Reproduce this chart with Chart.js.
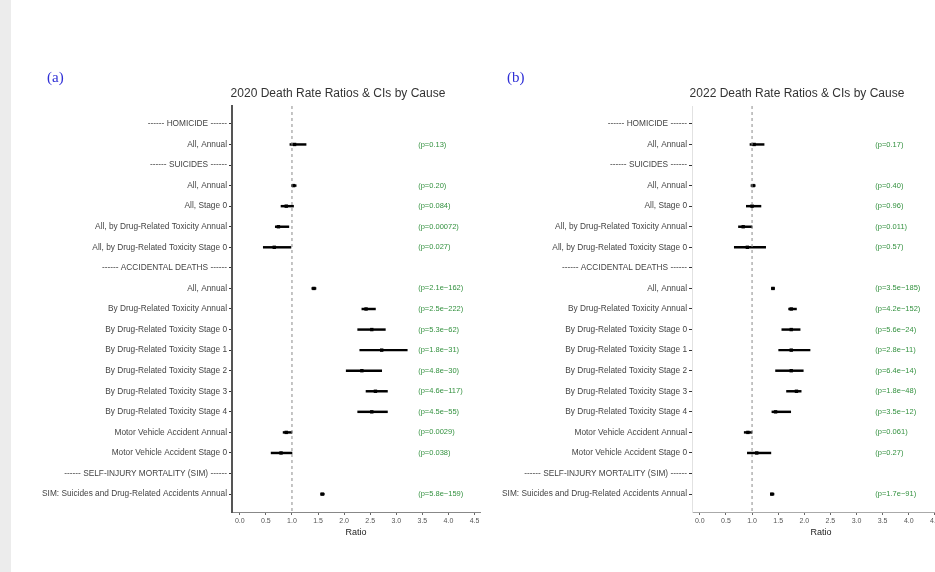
<!DOCTYPE html>
<html>
<head>
<meta charset="utf-8">
<script src="https://cdn.jsdelivr.net/npm/chart.js@4.4.1/dist/chart.umd.min.js"></script>
<style>
  body { margin: 0; background: #fff; }
  #page { position: relative; width: 935px; height: 572px; overflow: hidden; background: #fff; font-family: "Liberation Sans", Arial, sans-serif; }
  #strip { position: absolute; left: 0; top: 0; width: 11px; height: 572px; background: #ececec; }
  .panel { position: absolute; top: 0; height: 572px; overflow: hidden; }
  .letter { position: absolute; font-family: "Liberation Serif", serif; font-size: 15px; color: #2f2fd6; }
  .title { position: absolute; font-size: 12px; color: #333; text-align: center; white-space: nowrap; }
</style>
</head>
<body>
<div id="page">
  <div id="strip"></div>
  <div class="panel" style="left:12px;width:472px"><canvas id="c2020" width="472" height="572"></canvas></div>
  <div class="panel" style="left:484px;width:451px"><canvas id="c2022" width="470" height="572"></canvas></div>
  <div class="letter" style="left:47px;top:69px">(a)</div>
  <div class="letter" style="left:507px;top:69px">(b)</div>
  <div class="title" style="left:200px;width:276px;top:86px">2020 Death Rate Ratios &amp; CIs by Cause</div>
  <div class="title" style="left:659px;width:276px;top:86px">2022 Death Rate Ratios &amp; CIs by Cause</div>
</div>
<script>
// rows, top to bottom
const rowLabels = [
  '------ HOMICIDE ------',
  'All, Annual',
  '------ SUICIDES ------',
  'All, Annual',
  'All, Stage 0',
  'All, by Drug-Related Toxicity Annual',
  'All, by Drug-Related Toxicity Stage 0',
  '------ ACCIDENTAL DEATHS ------',
  'All, Annual',
  'By Drug-Related Toxicity Annual',
  'By Drug-Related Toxicity Stage 0',
  'By Drug-Related Toxicity Stage 1',
  'By Drug-Related Toxicity Stage 2',
  'By Drug-Related Toxicity Stage 3',
  'By Drug-Related Toxicity Stage 4',
  'Motor Vehicle Accident Annual',
  'Motor Vehicle Accident Stage 0',
  '------ SELF-INJURY MORTALITY (SIM) ------',
  'SIM: Suicides and Drug-Related Accidents Annual'
];
const xTicks = [0, 0.5, 1, 1.5, 2, 2.5, 3, 3.5, 4, 4.5];

const est2020 = [null, 1.05, null, 1.03, 0.89, 0.74, 0.66, null, 1.42, 2.42, 2.53, 2.72, 2.34, 2.60, 2.53, 0.89, 0.79, null, 1.58];
const lo2020  = [null, 0.96, null, 0.99, 0.79, 0.68, 0.45, null, 1.38, 2.34, 2.26, 2.30, 2.04, 2.42, 2.26, 0.83, 0.60, null, 1.55];
const hi2020  = [null, 1.27, null, 1.08, 1.03, 0.94, 0.98, null, 1.46, 2.60, 2.79, 3.21, 2.72, 2.83, 2.83, 1.00, 1.00, null, 1.62];
const p2020 = ['', '(p=0.13)', '', '(p=0.20)', '(p=0.084)', '(p=0.00072)', '(p=0.027)', '',
  '(p=2.1e\u2212162)', '(p=2.5e\u2212222)', '(p=5.3e\u221262)', '(p=1.8e\u221231)', '(p=4.8e\u221230)',
  '(p=4.6e\u2212117)', '(p=4.5e\u221255)', '(p=0.0029)', '(p=0.038)', '', '(p=5.8e\u2212159)'];

const est2022 = [null, 1.04, null, 1.02, 1.00, 0.83, 0.91, null, 1.40, 1.75, 1.75, 1.75, 1.75, 1.85, 1.45, 0.92, 1.09, null, 1.38];
const lo2022  = [null, 0.96, null, 0.98, 0.89, 0.74, 0.66, null, 1.37, 1.70, 1.57, 1.51, 1.45, 1.66, 1.38, 0.85, 0.91, null, 1.35];
const hi2022  = [null, 1.23, null, 1.06, 1.17, 1.00, 1.26, null, 1.43, 1.85, 1.92, 2.11, 1.98, 1.94, 1.74, 1.00, 1.36, null, 1.42];
const p2022 = ['', '(p=0.17)', '', '(p=0.40)', '(p=0.96)', '(p=0.011)', '(p=0.57)', '',
  '(p=3.5e\u2212185)', '(p=4.2e\u2212152)', '(p=5.6e\u221224)', '(p=2.8e\u221211)', '(p=6.4e\u221214)',
  '(p=1.8e\u221248)', '(p=3.5e\u221212)', '(p=0.061)', '(p=0.27)', '', '(p=1.7e\u221291)'];

const FONT = '"Liberation Sans", Arial, sans-serif';

// writes the p-value column next to each row
const pvalPlugin = {
  id: 'pvals',
  afterDatasetsDraw(chart, args, opts) {
    const { ctx, scales: { x, y } } = chart;
    ctx.save();
    ctx.font = '7.5px ' + FONT;
    ctx.fillStyle = '#33913f';
    ctx.textBaseline = 'middle';
    opts.texts.forEach((t, i) => {
      if (t) ctx.fillText(t, x.getPixelForValue(opts.at), y.getPixelForValue(i));
    });
    ctx.restore();
  }
};

function makePanel(id, est, lo, hi, pvals, cfg) {
  const ci = [], pts = [];
  est.forEach((v, i) => {
    if (v == null) return;
    ci.push({ y: i, x: [lo[i], hi[i]] });
    pts.push({ x: v, y: i });
  });
  return new Chart(document.getElementById(id), {
    type: 'scatter',
    data: {
      datasets: [
        { type: 'line', data: [{ x: 1, y: -0.87 }, { x: 1, y: 18.87 }], borderColor: '#8a8a8a',
          borderWidth: 1, borderDash: [3, 3], pointRadius: 0 },
        { type: 'bar', indexAxis: 'y', data: ci, backgroundColor: '#000', barThickness: 1.8 },
        { data: pts, pointStyle: 'rect', pointRadius: 2.4, backgroundColor: '#000', borderWidth: 0 }
      ]
    },
    options: {
      responsive: false,
      animation: false,
      layout: { padding: { top: 106, bottom: 32, left: 0, right: 0 } },
      plugins: { legend: { display: false }, tooltip: { enabled: false }, pvals: { texts: pvals, at: cfg.pAt } },
      scales: {
        x: {
          type: 'linear', min: -0.15, max: cfg.xMax, offset: false,
          afterBuildTicks: s => { s.ticks = xTicks.map(v => ({ value: v })); },
          afterFit: s => { s.height = 28; s.paddingLeft = 0; s.paddingRight = 0; },
          ticks: { callback: v => v.toFixed(1), font: { size: 7, family: FONT }, color: '#555', padding: 2, maxRotation: 0, autoSkip: false },
          grid: { drawOnChartArea: false, tickLength: 3, color: '#666' },
          border: { color: cfg.xBorder, width: 1 },
          title: { display: true, text: 'Ratio', font: { size: 9, family: FONT }, color: '#222', padding: { top: 1, bottom: 2 } }
        },
        y: {
          type: 'linear', reverse: true, min: -0.87, max: 18.87, offset: false,
          afterBuildTicks: s => { s.ticks = rowLabels.map((_, i) => ({ value: i })); },
          afterFit: s => { s.width = cfg.yWidth; s.paddingTop = 0; s.paddingBottom = 0; },
          ticks: { autoSkip: false, callback: v => rowLabels[v], font: { size: 8.3, family: FONT }, color: '#444', padding: 2 },
          grid: { drawOnChartArea: false, tickLength: 3, color: '#333', offset: false },
          border: { color: cfg.yBorder, width: cfg.yBorderWidth }
        }
      }
    },
    plugins: [pvalPlugin]
  });
}

makePanel('c2020', est2020, lo2020, hi2020, p2020,
  { yWidth: 220, xMax: 4.605, pAt: 3.42, yBorder: '#555', yBorderWidth: 2, xBorder: '#888' });
makePanel('c2022', est2022, lo2022, hi2022, p2022,
  { yWidth: 208, xMax: 4.79, pAt: 3.36, yBorder: '#e2e2e2', yBorderWidth: 1, xBorder: '#aaa' });
</script>
</body>
</html>
